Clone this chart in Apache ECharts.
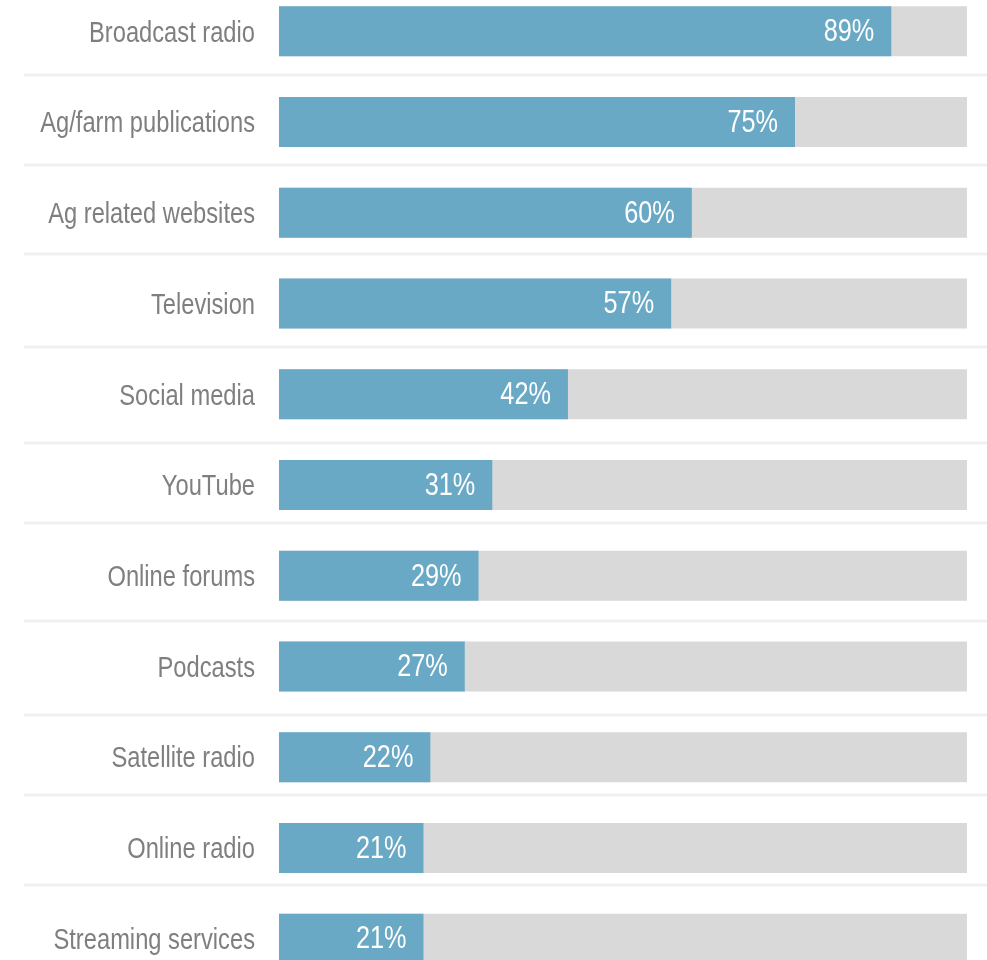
<!DOCTYPE html>
<html>
<head>
<meta charset="utf-8">
<script src="https://cdn.jsdelivr.net/npm/echarts@6/dist/echarts.min.js"></script>
<style>
  html, body { margin: 0; padding: 0; background: #ffffff; }
  #chart { width: 987px; height: 960px; }
</style>
</head>
<body>
<div id="chart"></div>
<script>
// Information sources used, share of respondents (%)
const categories = [
  'Broadcast radio', 'Ag/farm publications', 'Ag related websites', 'Television',
  'Social media', 'YouTube', 'Online forums', 'Podcasts', 'Satellite radio',
  'Online radio', 'Streaming services'
];
const shares = [89, 75, 60, 57, 42, 31, 29, 27, 22, 21, 21];

// Thin rules separating the rows (pixel rows within the canvas)
const ruleRows = [75, 165, 254, 347, 443, 523, 621, 715, 795, 885];

const FONT_FAMILY = '"Liberation Sans", Arial, sans-serif';
const NARROW = 0.79;   // horizontal squeeze giving a narrow sans look

const chart = echarts.init(document.getElementById('chart'), null, { renderer: 'canvas' });

// Text drawn at a data position, squeezed horizontally around its right edge
function narrowText(x, y, text, color, size) {
  return {
    type: 'text',
    x: x,
    y: y,
    scaleX: NARROW,
    style: {
      text: text,
      fill: color,
      align: 'right',
      verticalAlign: 'middle',
      fontFamily: FONT_FAMILY,
      fontSize: size
    }
  };
}

chart.setOption({
  backgroundColor: '#ffffff',
  animation: false,
  graphic: ruleRows.map(y => ({
    type: 'line',
    silent: true,
    z: 0,
    shape: { x1: 24, y1: y, x2: 987, y2: y },
    style: { stroke: '#f0f0f0', lineWidth: 3 }
  })),
  grid: {
    left: 279, right: 20, top: -14, bottom: -24,
    containLabel: false, outerBoundsMode: 'none'
  },
  xAxis: { type: 'value', min: 0, max: 100, show: false },
  yAxis: {
    type: 'category',
    data: categories,
    inverse: true,
    axisLine: { show: false },
    axisTick: { show: false },
    splitLine: { show: false },
    axisLabel: { show: false }
  },
  series: [
    {
      type: 'bar',
      data: shares,
      barWidth: 50,
      z: 2,
      itemStyle: { color: '#69a9c5' },
      showBackground: true,
      backgroundStyle: { color: '#d9d9d9' }
    },
    {
      // category names, right-aligned 24px left of the axis
      type: 'custom',
      z: 3,
      clip: false,
      silent: true,
      data: categories.map((c, i) => [0, i]),
      encode: { x: 0, y: 1 },
      renderItem: (params, api) => {
        const pt = api.coord([0, api.value(1)]);
        return narrowText(pt[0] - 24, pt[1] + 2, categories[params.dataIndex], '#7f7f7f', 30);
      }
    },
    {
      // value labels inside the bar ends
      type: 'custom',
      z: 4,
      clip: false,
      silent: true,
      data: shares.map((v, i) => [v, i]),
      encode: { x: 0, y: 1 },
      renderItem: (params, api) => {
        const pt = api.coord([api.value(0), api.value(1)]);
        return narrowText(pt[0] - 17, pt[1] + 1, api.value(0) + '%', '#ffffff', 32);
      }
    }
  ]
});
</script>
</body>
</html>
